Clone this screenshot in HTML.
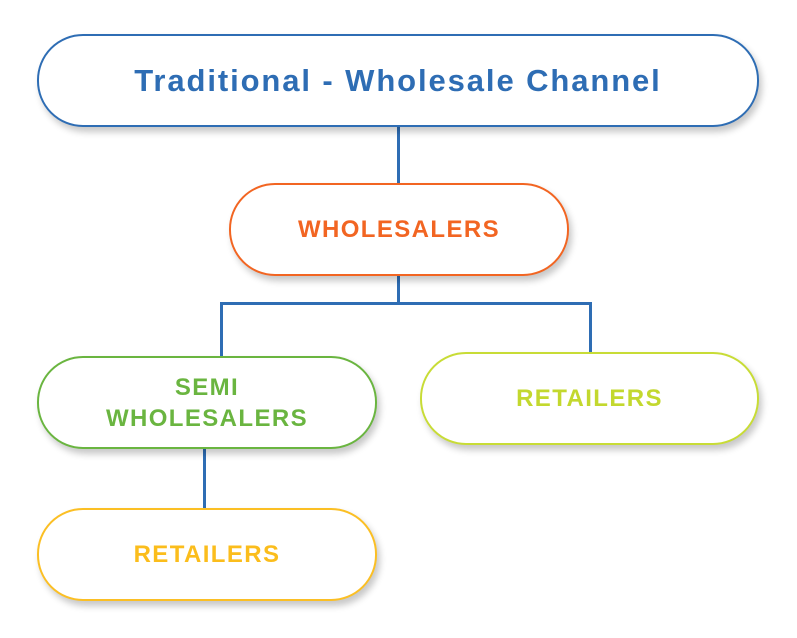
<!DOCTYPE html>
<html><head><style>
body{margin:0;width:797px;height:638px;background:#fff;position:relative;overflow:hidden;font-family:"Liberation Sans",sans-serif;}
.b{position:absolute;box-sizing:border-box;border:2px solid;border-radius:46px;background:#fff;box-shadow:3px 5px 7px rgba(0,0,0,0.22);display:flex;align-items:center;justify-content:center;text-align:center;font-weight:bold;}
.l{position:absolute;background:#2e6db4;}
.s{font-size:24px;letter-spacing:1.4px;}
</style></head><body>
<div class="l" style="left:397px;top:124px;width:3px;height:62px"></div>
<div class="l" style="left:397px;top:274px;width:3px;height:31px"></div>
<div class="l" style="left:220px;top:302px;width:372px;height:3px"></div>
<div class="l" style="left:220px;top:302px;width:3px;height:56px"></div>
<div class="l" style="left:589px;top:302px;width:3px;height:52px"></div>
<div class="l" style="left:203px;top:446px;width:3px;height:64px"></div>
<div class="b" style="left:37px;top:34px;width:722px;height:93px;border-color:#2e6db4;color:#2e6db4;font-size:31px;letter-spacing:1.9px">Traditional - Wholesale Channel</div>
<div class="b s" style="left:229px;top:183px;width:340px;height:93px;border-color:#f26522;color:#f26522">WHOLESALERS</div>
<div class="b s" style="left:37px;top:356px;width:340px;height:93px;border-color:#6ab540;color:#6ab540;line-height:31px">SEMI<br>WHOLESALERS</div>
<div class="b s" style="left:420px;top:352px;width:339px;height:93px;border-color:#c8dc36;color:#c3d82e">RETAILERS</div>
<div class="b s" style="left:37px;top:508px;width:340px;height:93px;border-color:#fbbf24;color:#fbbd1c">RETAILERS</div>
</body></html>
